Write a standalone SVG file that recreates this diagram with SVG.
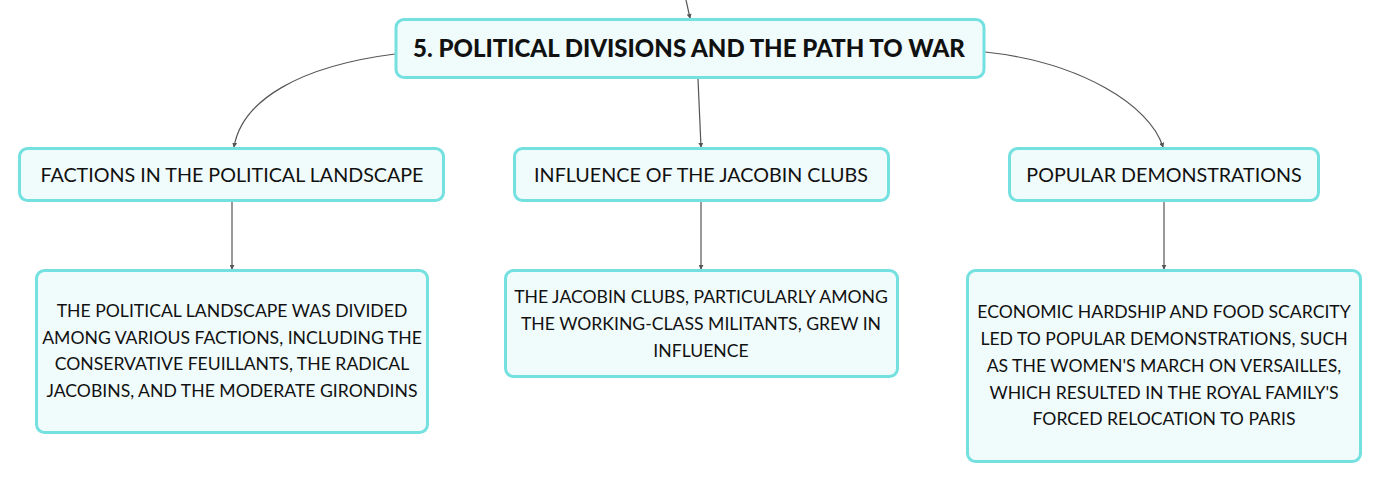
<svg xmlns="http://www.w3.org/2000/svg" width="1381" height="483" viewBox="0 0 1381 483">
<style>
.box{fill:#f0fbfb;stroke:#74e0e0;stroke-width:3}
.t{font-family:Lato,"Noto Sans",sans-serif;fill:#111;text-anchor:middle}
.root{font-size:24px;font-weight:900}
.sub{font-size:19.7px}
.det{font-size:17.6px}
.c{fill:none;stroke:#555;stroke-width:1.2;marker-end:url(#a)}
</style>
<defs>
<marker id="a" viewBox="0 0 6 6" refX="5" refY="3" markerWidth="5" markerHeight="5" orient="auto" markerUnits="userSpaceOnUse">
<path d="M0,0 L6,3 L0,6 z" fill="#555"/>
</marker>
</defs>
<rect width="1381" height="483" fill="#fff"/>
<g id="connectors">
<path class="c" d="M686,0 L690,18"/>
<path class="c" d="M395,54 C300,66 242,100 234,147"/>
<path class="c" d="M698,79 L701,147"/>
<path class="c" d="M985,52 C1080,62 1150,105 1163,147"/>
<path class="c" d="M232,202 L232,269"/>
<path class="c" d="M701,202 L701,269"/>
<path class="c" d="M1164,202 L1164,269"/>
</g>
<g id="root">
<rect class="box" x="396" y="19.5" width="588" height="58" rx="8"/>
<text class="t root" x="689" y="57">5. POLITICAL DIVISIONS AND THE PATH TO WAR</text>
</g>
<g id="factions">
<rect class="box" x="19.5" y="148.5" width="424" height="52" rx="8"/>
<text class="t sub" x="232" y="182">FACTIONS IN THE POLITICAL LANDSCAPE</text>
</g>
<g id="jacobin">
<rect class="box" x="514.5" y="148.5" width="374" height="52" rx="8"/>
<text class="t sub" x="701" y="182">INFLUENCE OF THE JACOBIN CLUBS</text>
</g>
<g id="popular">
<rect class="box" x="1009.5" y="148.5" width="309" height="52" rx="8"/>
<text class="t sub" x="1164" y="182">POPULAR DEMONSTRATIONS</text>
</g>
<g id="factions-detail">
<rect class="box" x="36.5" y="270.5" width="391" height="162" rx="8"/>
<text class="t det" x="232"><tspan x="232" y="317">THE POLITICAL LANDSCAPE WAS DIVIDED</tspan><tspan x="232" y="344">AMONG VARIOUS FACTIONS, INCLUDING THE</tspan><tspan x="232" y="370">CONSERVATIVE FEUILLANTS, THE RADICAL</tspan><tspan x="232" y="397">JACOBINS, AND THE MODERATE GIRONDINS</tspan></text>
</g>
<g id="jacobin-detail">
<rect class="box" x="505.5" y="270.5" width="392" height="106" rx="8"/>
<text class="t det" x="701"><tspan x="701" y="303">THE JACOBIN CLUBS, PARTICULARLY AMONG</tspan><tspan x="701" y="330">THE WORKING-CLASS MILITANTS, GREW IN</tspan><tspan x="701" y="357">INFLUENCE</tspan></text>
</g>
<g id="popular-detail">
<rect class="box" x="967.5" y="270.5" width="393" height="191" rx="8"/>
<text class="t det" x="1164"><tspan x="1164" y="318">ECONOMIC HARDSHIP AND FOOD SCARCITY</tspan><tspan x="1164" y="345">LED TO POPULAR DEMONSTRATIONS, SUCH</tspan><tspan x="1164" y="372">AS THE WOMEN'S MARCH ON VERSAILLES,</tspan><tspan x="1164" y="399">WHICH RESULTED IN THE ROYAL FAMILY'S</tspan><tspan x="1164" y="425">FORCED RELOCATION TO PARIS</tspan></text>
</g>
</svg>
